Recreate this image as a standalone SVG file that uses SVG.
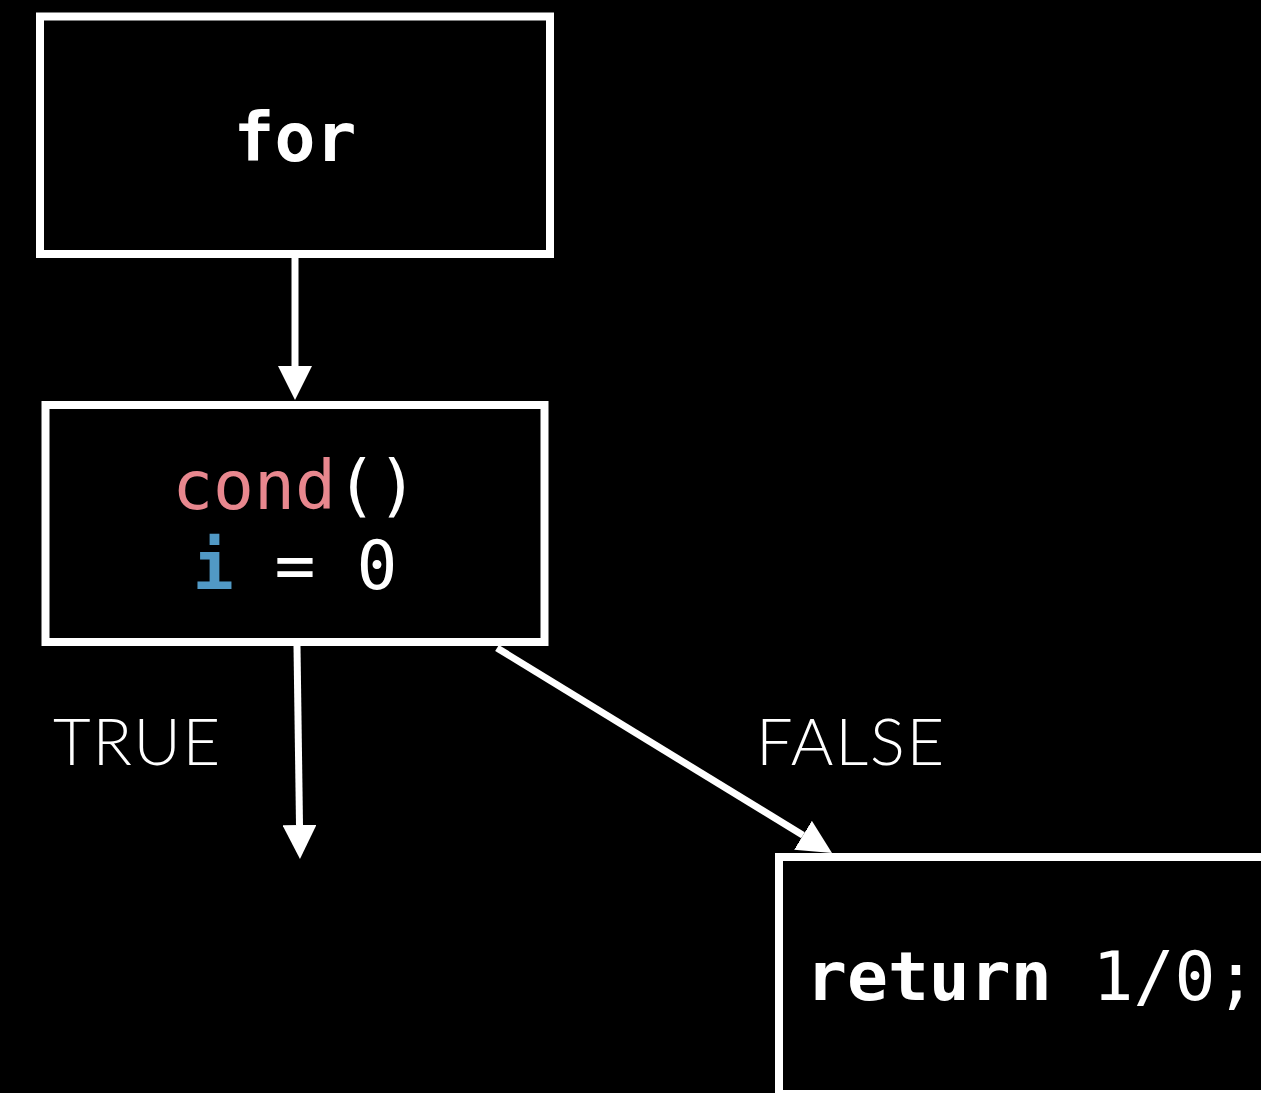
<svg xmlns="http://www.w3.org/2000/svg" width="1261" height="1093" viewBox="0 0 1261 1093">
  <style>
    .box { fill: #000; stroke: #fff; stroke-width: 8; }
    .code { font-family: "DejaVu Sans Mono", "Liberation Mono", monospace; font-size: 68px; fill: #fff; }
    .bold { font-weight: bold; }
    .fn { fill: #E8878E; }
    .var { fill: #5199C5; font-weight: bold; }
    .label { font-family: Lato, "Open Sans", sans-serif; font-weight: 300; font-size: 65px; letter-spacing: 1.8px; fill: #fff; }
    .edge { stroke: #fff; stroke-width: 7; fill: none; }
  </style>
  <defs>
    <marker id="head" markerUnits="userSpaceOnUse" markerWidth="34" markerHeight="34" refX="0" refY="17" orient="auto" viewBox="0 0 34 34">
      <path d="M0,0 L34,17 L0,34 z" fill="#fff"/>
    </marker>
  </defs>
  <rect width="1261" height="1093" fill="#000"/>

  <g id="connectors">
    <line class="edge" x1="295" y1="258" x2="295" y2="366" marker-end="url(#head)"/>
    <line class="edge" x1="297" y1="646" x2="299.5" y2="825" marker-end="url(#head)"/>
    <line class="edge" x1="497" y1="648" x2="803" y2="835.3" marker-end="url(#head)"/>
    <text class="label" x="53" y="765">TRUE</text>
    <text class="label" x="756" y="765">FALSE</text>
  </g>

  <g id="node-for">
    <rect class="box" x="40" y="16.5" width="510" height="237.5"/>
    <text class="code bold" x="295" y="161" text-anchor="middle">for</text>
  </g>

  <g id="node-cond">
    <rect class="box" x="45.5" y="405" width="499" height="237"/>
    <text class="code" x="295" y="509" text-anchor="middle"><tspan class="fn">cond</tspan>()</text>
    <text class="code" x="295" y="589" text-anchor="middle"><tspan class="var">i</tspan> = 0</text>
  </g>

  <g id="node-return">
    <rect class="box" x="779" y="857" width="540" height="237"/>
    <text class="code" x="806" y="1000"><tspan class="bold">return</tspan> 1/0;</text>
  </g>
</svg>
